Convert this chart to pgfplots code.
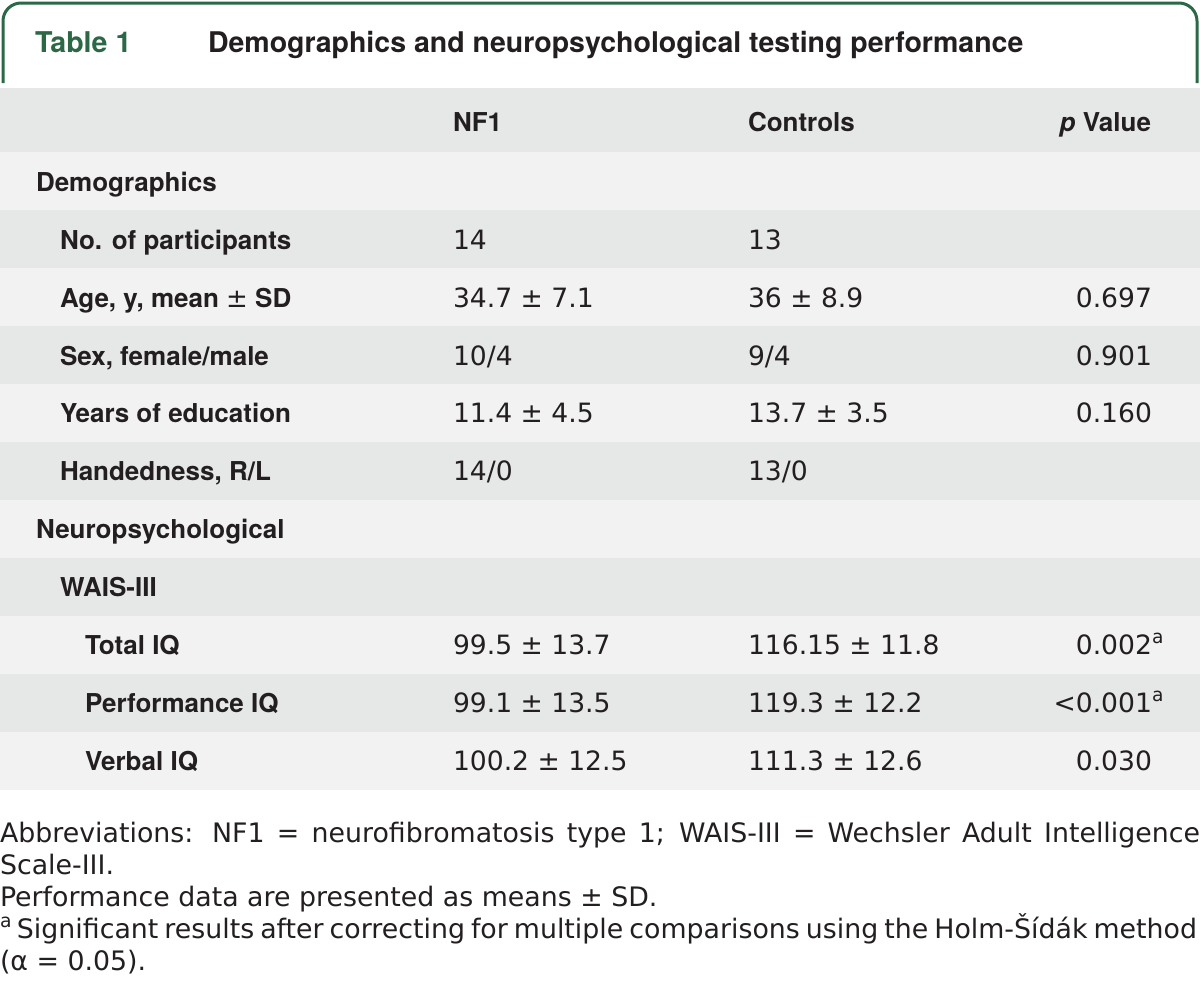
\documentclass[border=0pt]{standalone}
\usepackage{fontspec}
\setmainfont{TeX Gyre Heros}
\newfontfamily\valfont{DejaVu Sans}
\usepackage{pgfplots}
\pgfplotsset{compat=1.18}
\definecolor{tgreen}{RGB}{44,104,70}
\definecolor{rowdark}{RGB}{230,231,231}
\definecolor{rowlight}{RGB}{242,242,242}
\definecolor{txt}{RGB}{35,31,32}
\begin{document}
\begin{tikzpicture}[
  every node/.style={inner sep=0pt, outer sep=0pt, text=txt},
  lab/.style={anchor=base west, font=\fontsize{13pt}{15pt}\selectfont\bfseries},
  val/.style={anchor=base west, font=\fontsize{13.3pt}{15pt}\valfont},
  pv/.style={anchor=base east, font=\fontsize{13.3pt}{15pt}\valfont},
  fn/.style={anchor=base west, font=\fontsize{13.4pt}{15pt}\valfont},
]
\begin{axis}[
  scale only axis, width=600pt, height=501pt,
  xmin=0, xmax=1200, ymin=0, ymax=1002, y dir=reverse,
  hide axis, clip=false,
]
% background
\addplot[fill=white, draw=none] coordinates {(0,0) (1200,0) (1200,1002) (0,1002)} --cycle;
% row bands
\addplot[fill=rowdark, draw=none] coordinates {(0,88) (1200,88) (1200,152) (0,152)} --cycle;
\addplot[fill=rowlight, draw=none] coordinates {(0,152) (1200,152) (1200,210) (0,210)} --cycle;
\addplot[fill=rowdark, draw=none] coordinates {(0,210) (1200,210) (1200,268) (0,268)} --cycle;
\addplot[fill=rowlight, draw=none] coordinates {(0,268) (1200,268) (1200,326) (0,326)} --cycle;
\addplot[fill=rowdark, draw=none] coordinates {(0,326) (1200,326) (1200,384) (0,384)} --cycle;
\addplot[fill=rowlight, draw=none] coordinates {(0,384) (1200,384) (1200,442) (0,442)} --cycle;
\addplot[fill=rowdark, draw=none] coordinates {(0,442) (1200,442) (1200,500) (0,500)} --cycle;
\addplot[fill=rowlight, draw=none] coordinates {(0,500) (1200,500) (1200,558) (0,558)} --cycle;
\addplot[fill=rowdark, draw=none] coordinates {(0,558) (1200,558) (1200,616) (0,616)} --cycle;
\addplot[fill=rowlight, draw=none] coordinates {(0,616) (1200,616) (1200,674) (0,674)} --cycle;
\addplot[fill=rowdark, draw=none] coordinates {(0,674) (1200,674) (1200,732) (0,732)} --cycle;
\addplot[fill=rowlight, draw=none] coordinates {(0,732) (1200,732) (1200,790) (0,790)} --cycle;
% title frame
\draw[tgreen, line width=1.5pt, rounded corners=9pt] (axis cs:3,83) -- (axis cs:3,3) -- (axis cs:1197,3) -- (axis cs:1197,83);
% title
\node[anchor=base west, text=tgreen, font=\fontsize{14.3pt}{16pt}\selectfont\bfseries] at (axis cs:35,52) {Table 1};
\node[anchor=base west, font=\fontsize{14.25pt}{16pt}\selectfont\bfseries] at (axis cs:208,52) {Demographics and neuropsychological testing performance};
% header
\node[lab] at (axis cs:453,131) {NF1};
\node[lab] at (axis cs:748,131) {Controls};
\node[lab, anchor=base east] at (axis cs:1151,131) {\textit{p} Value};
% labels
\node[lab] at (axis cs:36,191) {Demographics};
\node[lab] at (axis cs:60,249) {No. of participants};
\node[lab] at (axis cs:60,307) {Age, y, mean \textmd{\valfont ±} SD};
\node[lab] at (axis cs:60,365) {Sex, female/male};
\node[lab] at (axis cs:60,422) {Years of education};
\node[lab] at (axis cs:60,480) {Handedness, R/L};
\node[lab] at (axis cs:36,538) {Neuropsychological};
\node[lab] at (axis cs:60,596) {WAIS-III};
\node[lab] at (axis cs:85,654) {Total IQ};
\node[lab] at (axis cs:85,712) {Performance IQ};
\node[lab] at (axis cs:85,770) {Verbal IQ};
% NF1
\node[val] at (axis cs:453,249) {14};
\node[val] at (axis cs:453,307) {34.7 ± 7.1};
\node[val] at (axis cs:453,365) {10/4};
\node[val] at (axis cs:453,422) {11.4 ± 4.5};
\node[val] at (axis cs:453,480) {14/0};
\node[val] at (axis cs:453,654) {99.5 ± 13.7};
\node[val] at (axis cs:453,712) {99.1 ± 13.5};
\node[val] at (axis cs:453,770) {100.2 ± 12.5};
% Controls
\node[val] at (axis cs:748,249) {13};
\node[val] at (axis cs:748,307) {36 ± 8.9};
\node[val] at (axis cs:748,365) {9/4};
\node[val] at (axis cs:748,422) {13.7 ± 3.5};
\node[val] at (axis cs:748,480) {13/0};
\node[val] at (axis cs:748,654) {116.15 ± 11.8};
\node[val] at (axis cs:748,712) {119.3 ± 12.2};
\node[val] at (axis cs:748,770) {111.3 ± 12.6};
% p values
\node[pv] at (axis cs:1152,307) {0.697};
\node[pv] at (axis cs:1152,365) {0.901};
\node[pv] at (axis cs:1152,422) {0.160};
\node[pv] at (axis cs:1152,654) {0.002\rlap{\textsuperscript{a}}};
\node[pv] at (axis cs:1152,712) {<0.001\rlap{\textsuperscript{a}}};
\node[pv] at (axis cs:1152,770) {0.030};
% footnotes
\node[fn] at (axis cs:0,842) {\makebox[600pt][s]{Abbreviations: NF1 = neurofibromatosis type 1; WAIS-III = Wechsler Adult Intelligence}};
\node[fn] at (axis cs:0,874) {Scale-III.};
\node[fn] at (axis cs:0,906) {Performance data are presented as means ± SD.};
\node[fn] at (axis cs:0,938) {\makebox[598.5pt][s]{\textsuperscript{a}\,Significant results after correcting for multiple comparisons using the Holm-Šídák method}};
\node[fn] at (axis cs:0,970) {(α = 0.05).};
\end{axis}
\end{tikzpicture}
\end{document}
